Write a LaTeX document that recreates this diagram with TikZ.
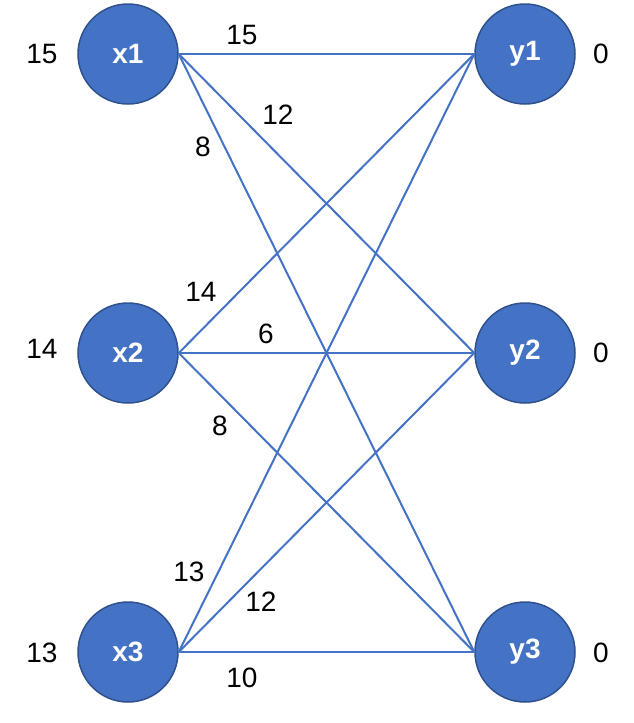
\documentclass[tikz,border=0pt]{standalone}
\usepackage{fontspec}
\setmainfont{Liberation Sans}
\definecolor{nodefill}{HTML}{4472C4}
\definecolor{nodeborder}{HTML}{2F528F}
\begin{document}
\begin{tikzpicture}[x=1pt,y=-1pt,
  vert/.style={circle,minimum size=100pt,inner sep=0pt,fill=nodefill,draw=nodeborder,line width=1.5pt,text=white,font=\fontsize{28}{30}\selectfont\bfseries},
  lbl/.style={font=\fontsize{28}{30}\selectfont,inner sep=0pt},
  edge/.style={draw=nodefill,line width=2pt}]
\useasboundingbox (0,0) rectangle (634,723);
\node[vert] (x1) at (128,54) {x1};
\node[vert] (x2) at (128,353) {x2};
\node[vert] (x3) at (128,652) {x3};
\node[vert] (y1) at (525,54) {y1};
\node[vert] (y2) at (525,353) {y2};
\node[vert] (y3) at (525,652) {y3};
\foreach \a in {x1,x2,x3}{\foreach \b in {y1,y2,y3}{\draw[edge] (\a.east) -- (\b.west);}}
\node[lbl] (l1) at (42,54) {15};
\node[lbl] (l2) at (42,349) {14};
\node[lbl] (l3) at (42,653) {13};
\node[lbl] (r1) at (601,54) {0};
\node[lbl] (r2) at (601,353) {0};
\node[lbl] (r3) at (601,653) {0};
\node[lbl] (e1) at (242,35) {15};
\node[lbl] (e2) at (278,115) {12};
\node[lbl] (e3) at (203,147) {8};
\node[lbl] (e4) at (201,292) {14};
\node[lbl] (e5) at (266,334) {6};
\node[lbl] (e6) at (220,426) {8};
\node[lbl] (e7) at (189,572) {13};
\node[lbl] (e8) at (261,602) {12};
\node[lbl] (e9) at (242,678) {10};
\end{tikzpicture}
\end{document}
